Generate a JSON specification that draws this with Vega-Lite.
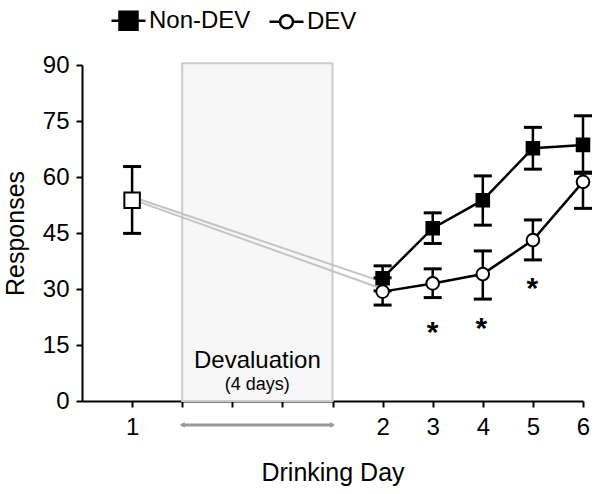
{
  "$schema": "https://vega.github.io/schema/vega-lite/v6.json",
  "width": 501,
  "height": 336,
  "autosize": {"type": "none"},
  "padding": {"left": 82, "top": 65, "right": 17, "bottom": 93},
  "background": "white",
  "config": {
    "view": {"stroke": null},
    "font": "Liberation Sans",
    "axis": {
      "labelFont": "Liberation Sans",
      "titleFont": "Liberation Sans",
      "labelColor": "black",
      "titleColor": "black",
      "domainColor": "black",
      "tickColor": "black",
      "domainWidth": 2,
      "tickWidth": 2,
      "grid": false,
      "titleFontWeight": "normal",
      "labelOverlap": false,
      "labelFlush": false
    }
  },
  "datasets": {
    "pts": [
      {"series": "Baseline", "day": 1, "pos": 0, "y": 53.8, "lo": 44.9, "hi": 62.8},
      {"series": "Non-DEV", "day": 2, "pos": 5, "y": 32.9, "lo": 29.5, "hi": 36.2},
      {"series": "Non-DEV", "day": 3, "pos": 6, "y": 46.3, "lo": 42.2, "hi": 50.4},
      {"series": "Non-DEV", "day": 4, "pos": 7, "y": 53.8, "lo": 47.1, "hi": 60.3},
      {"series": "Non-DEV", "day": 5, "pos": 8, "y": 67.7, "lo": 62.1, "hi": 73.3},
      {"series": "Non-DEV", "day": 6, "pos": 9, "y": 68.6, "lo": 61.0, "hi": 76.4},
      {"series": "DEV", "day": 2, "pos": 5, "y": 29.3, "lo": 25.7, "hi": 33.0},
      {"series": "DEV", "day": 3, "pos": 6, "y": 31.5, "lo": 27.7, "hi": 35.4},
      {"series": "DEV", "day": 4, "pos": 7, "y": 34.0, "lo": 27.3, "hi": 40.2},
      {"series": "DEV", "day": 5, "pos": 8, "y": 43.1, "lo": 37.8, "hi": 48.5},
      {"series": "DEV", "day": 6, "pos": 9, "y": 58.7, "lo": 51.6, "hi": 61.3}
    ],
    "gray": [
      {"line": "a", "pos": 0, "y": 54.7},
      {"line": "a", "pos": 5, "y": 31.9},
      {"line": "b", "pos": 0, "y": 54.0},
      {"line": "b", "pos": 5, "y": 30.0}
    ],
    "sig": [
      {"day": 3, "pos": 6, "y": 20.1},
      {"day": 4, "pos": 6.97, "y": 21.2},
      {"day": 5, "pos": 7.99, "y": 32.0}
    ],
    "band": [{"from": 1, "to": 4, "bottom": 0, "top": 90.5}],
    "arrow": [{"from": 1, "to": 4, "y": -6.4}],
    "notes": [
      {"kind": "main", "text": "Devaluation", "pos": 2.5, "y": 8.76},
      {"kind": "sub", "text": "(4 days)", "pos": 2.5, "y": 2.95}
    ]
  },
  "layer": [
    {
      "data": {"name": "band"},
      "mark": {"type": "rect", "fill": "#f7f7f7", "stroke": "#cccccc", "strokeWidth": 2},
      "encoding": {
        "x": {
          "field": "from", "type": "quantitative",
          "scale": {"domain": [-1, 9], "nice": false, "zero": false},
          "axis": {
            "title": "Drinking Day",
            "values": [0, 1, 2, 3, 4, 5, 6, 7, 8, 9],
            "labelExpr": "datum.value == 0 ? '1' : (datum.value >= 5 ? '' + (datum.value - 3) : '')",
            "tickSize": 6,
            "labelFontSize": 24,
            "labelPadding": 8,
            "titleFontSize": 25,
            "titlePadding": 21
          }
        },
        "x2": {"field": "to"},
        "y": {
          "field": "bottom", "type": "quantitative",
          "scale": {"domain": [0, 90], "nice": false},
          "axis": {
            "title": "Responses",
            "values": [0, 7.5, 15, 22.5, 30, 37.5, 45, 52.5, 60, 67.5, 75, 82.5, 90],
            "labelExpr": "datum.value % 15 === 0 ? datum.label : ''",
            "tickSize": {"condition": {"test": "datum.value % 15 === 0", "value": 6}, "value": 3},
            "labelFontSize": 24,
            "labelPadding": 7,
            "titleFontSize": 25,
            "titlePadding": 14
          }
        },
        "y2": {"field": "top"}
      }
    },
    {
      "data": {"name": "gray"},
      "mark": {"type": "line", "color": "#c4c4c4", "strokeWidth": 2},
      "encoding": {
        "x": {"field": "pos", "type": "quantitative"},
        "y": {"field": "y", "type": "quantitative"},
        "detail": {"field": "line"}
      }
    },
    {
      "data": {"name": "pts"},
      "transform": [{"filter": "datum.series != 'Baseline'"}],
      "mark": {"type": "line", "color": "black", "strokeWidth": 2.5},
      "encoding": {
        "x": {"field": "pos", "type": "quantitative"},
        "y": {"field": "y", "type": "quantitative"},
        "detail": {"field": "series"}
      }
    },
    {
      "data": {"name": "pts"},
      "mark": {"type": "rule", "color": "black", "strokeWidth": 2.5},
      "encoding": {
        "x": {"field": "pos", "type": "quantitative"},
        "y": {"field": "lo", "type": "quantitative"},
        "y2": {"field": "hi"}
      }
    },
    {
      "data": {"name": "pts"},
      "mark": {"type": "tick", "orient": "horizontal", "size": 18, "thickness": 3, "color": "black", "opacity": 1},
      "encoding": {
        "x": {"field": "pos", "type": "quantitative"},
        "y": {"field": "lo", "type": "quantitative"}
      }
    },
    {
      "data": {"name": "pts"},
      "mark": {"type": "tick", "orient": "horizontal", "size": 18, "thickness": 3, "color": "black", "opacity": 1},
      "encoding": {
        "x": {"field": "pos", "type": "quantitative"},
        "y": {"field": "hi", "type": "quantitative"}
      }
    },
    {
      "data": {"name": "pts"},
      "transform": [{"filter": "datum.series == 'Non-DEV'"}],
      "mark": {"type": "point", "shape": "square", "filled": true, "fill": "black", "stroke": "black", "strokeWidth": 1.5, "size": 170, "opacity": 1},
      "encoding": {
        "x": {"field": "pos", "type": "quantitative"},
        "y": {"field": "y", "type": "quantitative"}
      }
    },
    {
      "data": {"name": "pts"},
      "transform": [{"filter": "datum.series == 'DEV'"}],
      "mark": {"type": "point", "shape": "circle", "filled": true, "fill": "white", "stroke": "black", "strokeWidth": 2, "size": 160, "opacity": 1},
      "encoding": {
        "x": {"field": "pos", "type": "quantitative"},
        "y": {"field": "y", "type": "quantitative"}
      }
    },
    {
      "data": {"name": "pts"},
      "transform": [{"filter": "datum.series == 'Baseline'"}],
      "mark": {"type": "point", "shape": "square", "filled": true, "fill": "white", "stroke": "black", "strokeWidth": 2, "size": 240, "opacity": 1},
      "encoding": {
        "x": {"field": "pos", "type": "quantitative"},
        "y": {"field": "y", "type": "quantitative"}
      }
    },
    {
      "data": {"name": "sig"},
      "mark": {"type": "text", "text": "*", "font": "Liberation Sans", "fontSize": 30, "fontWeight": "bold", "color": "black", "align": "center", "baseline": "alphabetic", "dy": 16},
      "encoding": {
        "x": {"field": "pos", "type": "quantitative"},
        "y": {"field": "y", "type": "quantitative"}
      }
    },
    {
      "data": {"name": "notes"},
      "transform": [{"filter": "datum.kind == 'main'"}],
      "mark": {"type": "text", "font": "Liberation Sans", "fontSize": 24, "color": "black", "align": "center", "baseline": "alphabetic"},
      "encoding": {
        "x": {"field": "pos", "type": "quantitative"},
        "y": {"field": "y", "type": "quantitative"},
        "text": {"field": "text"}
      }
    },
    {
      "data": {"name": "notes"},
      "transform": [{"filter": "datum.kind == 'sub'"}],
      "mark": {"type": "text", "font": "Liberation Sans", "fontSize": 18, "color": "black", "align": "center", "baseline": "alphabetic"},
      "encoding": {
        "x": {"field": "pos", "type": "quantitative"},
        "y": {"field": "y", "type": "quantitative"},
        "text": {"field": "text"}
      }
    },
    {
      "data": {"name": "arrow"},
      "mark": {"type": "rule", "color": "#999999", "strokeWidth": 3},
      "encoding": {
        "x": {"field": "from", "type": "quantitative"},
        "x2": {"field": "to"},
        "y": {"field": "y", "type": "quantitative"}
      }
    },
    {
      "data": {"name": "arrow"},
      "mark": {"type": "point", "shape": "triangle-left", "filled": true, "color": "#999999", "size": 35, "opacity": 1},
      "encoding": {
        "x": {"field": "from", "type": "quantitative"},
        "y": {"field": "y", "type": "quantitative"}
      }
    },
    {
      "data": {"name": "arrow"},
      "mark": {"type": "point", "shape": "triangle-right", "filled": true, "color": "#999999", "size": 35, "opacity": 1},
      "encoding": {
        "x": {"field": "to", "type": "quantitative"},
        "y": {"field": "y", "type": "quantitative"}
      }
    },
    {
      "data": {"name": "pts"},
      "transform": [{"filter": "datum.series != 'Baseline'"}],
      "mark": {"type": "point", "filled": true, "opacity": 0},
      "encoding": {
        "x": {"field": "pos", "type": "quantitative"},
        "y": {"field": "y", "type": "quantitative"},
        "fill": {
          "field": "series", "type": "nominal",
          "scale": {"domain": ["Non-DEV", "DEV"], "range": ["black", "white"]},
          "legend": {
            "title": null, "orient": "none", "legendX": 28, "legendY": -63, "direction": "horizontal",
            "labelFont": "Liberation Sans", "labelFontSize": 24, "labelColor": "black",
            "symbolSize": 1156, "symbolOpacity": 1,
            "labelOffset": 2, "columnPadding": 13, "padding": 0,
            "encode": {
              "symbols": {
                "update": {
                  "shape": {"signal": "datum.value == 'Non-DEV' ? 'M-1,0H-0.53M0.53,0H1M-0.53,-0.53H0.53V0.53H-0.53Z' : 'M-1,0H-0.38M0.38,0H1M-0.38,0A0.38,0.38 0 1,0 0.38,0A0.38,0.38 0 1,0 -0.38,0Z'"},
                  "fill": {"signal": "datum.value == 'Non-DEV' ? 'black' : 'white'"},
                  "stroke": {"value": "black"},
                  "strokeWidth": {"value": 2.5},
                  "opacity": {"value": 1},
                  "fillOpacity": {"value": 1},
                  "strokeOpacity": {"value": 1}
                }
              }
            }
          }
        }
      }
    }
  ]
}
